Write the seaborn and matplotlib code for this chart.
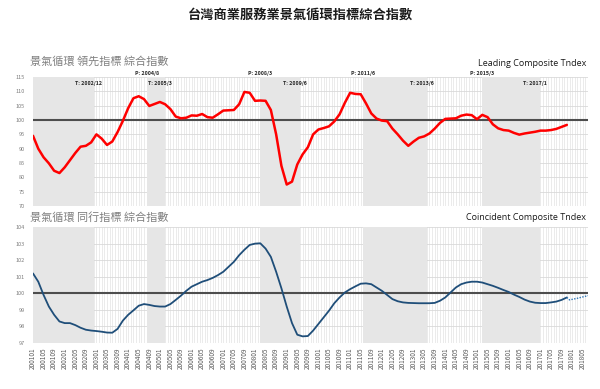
import numpy as np
import pandas as pd
import matplotlib
matplotlib.use("Agg")
import matplotlib.pyplot as plt
import seaborn as sns

# month labels on the x axis (2001/01 .. 2018/07)
months = pd.period_range("2001-01", "2018-07", freq="M").strftime("%Y%m").tolist()

# leading composite index, read every second month 200101 .. 201711
leading = [94.5, 90.0, 87.0, 84.9, 82.3, 81.5, 83.5, 86.0, 88.5, 90.7,
           91.0, 92.2, 95.0, 93.5, 91.3, 92.5, 95.8, 99.7, 104.1, 107.6,
           108.3, 107.3, 104.9, 105.6, 106.3, 105.5, 103.8, 101.2, 100.6, 100.8,
           101.6, 101.5, 102.1, 101.0, 100.8, 102.0, 103.3, 103.4, 103.5, 105.5,
           109.8, 109.5, 106.7, 106.8, 106.7, 103.5, 95.0, 84.0, 77.5, 78.5,
           84.5, 88.0, 90.5, 95.0, 96.7, 97.2, 97.8, 99.5, 102.0, 106.0,
           109.5, 109.1, 109.0, 105.8, 102.3, 100.5, 99.8, 99.6, 97.0, 95.0,
           92.8, 91.0, 92.5, 93.8, 94.3, 95.3, 97.0, 99.0, 100.4, 100.5,
           100.6, 101.5, 101.9, 101.7, 100.3, 101.8, 101.0, 98.5, 97.1, 96.5,
           96.3, 95.5, 94.9, 95.3, 95.6, 95.9, 96.3, 96.3, 96.5, 96.9,
           97.6, 98.3]

# coincident composite index, same months
coincident = [101.2, 100.7, 99.9, 99.2, 98.7, 98.3, 98.2, 98.2, 98.08, 97.92,
              97.8, 97.75, 97.72, 97.68, 97.63, 97.62, 97.85, 98.35, 98.7, 98.97,
              99.25, 99.35, 99.3, 99.23, 99.2, 99.2, 99.35, 99.6, 99.86, 100.15,
              100.4, 100.55, 100.7, 100.8, 100.93, 101.1, 101.3, 101.6, 101.9, 102.3,
              102.63, 102.92, 103.0, 103.02, 102.7, 102.2, 101.3, 100.3, 99.2, 98.2,
              97.5, 97.4, 97.42, 97.75, 98.15, 98.55, 98.95, 99.4, 99.75, 100.05,
              100.25, 100.42, 100.58, 100.6, 100.55, 100.35, 100.15, 99.9, 99.65, 99.52,
              99.45, 99.42, 99.41, 99.4, 99.4, 99.4, 99.42, 99.55, 99.75, 100.05,
              100.35, 100.55, 100.65, 100.7, 100.7, 100.65, 100.55, 100.45, 100.33, 100.2,
              100.08, 99.92, 99.78, 99.62, 99.5, 99.43, 99.41, 99.41, 99.45, 99.5,
              99.6, 99.75]
series_months = months[0:203:2]

# dotted tail of the coincident line
tail_months = ["201711", "201712", "201803", "201807"]
tail_values = [99.75, 99.6, 99.7, 99.86]

# contraction periods (peak -> trough) shaded grey
shade_start = ["200101", "200408", "200803", "201106", "201503"]
shade_end = ["200212", "200503", "200906", "201306", "201701"]
peak_labels = ["P: 2004/8", "P: 2008/3", "P: 2011/6", "P: 2015/3"]
trough_labels = ["T: 2002/12", "T: 2005/3", "T: 2009/6", "T: 2013/6", "T: 2017/1"]

idx = {m: i for i, m in enumerate(months)}
lead_df = pd.DataFrame({"x": [idx[m] for m in series_months], "y": leading})
coin_df = pd.DataFrame({"x": [idx[m] for m in series_months], "y": coincident})
tail_df = pd.DataFrame({"x": [idx[m] for m in tail_months], "y": tail_values})

sns.set_theme(style="white")
plt.rcParams["font.family"] = ["Noto Sans CJK TC", "DejaVu Sans"]

fig = plt.figure(figsize=(6.0, 3.89), dpi=100)
ax1 = fig.add_axes([0.055, 0.4704, 0.925, 0.3316])
ax2 = fig.add_axes([0.055, 0.1183, 0.925, 0.298])

for ax, ylim, step in [(ax1, (70, 115), 5), (ax2, (97, 104), 1)]:
    ax.set_xlim(0, len(months) - 1)
    ax.set_ylim(*ylim)
    for m in range(len(months)):
        ax.axvline(m, color="#E3E3E3", lw=0.5, zorder=0)
    for s, e in zip(shade_start, shade_end):
        ax.axvspan(idx[s], idx[e], color="#E6E6E6", lw=0, zorder=1)
    ax.set_yticks(np.arange(ylim[0], ylim[1] + 0.1, step))
    ax.yaxis.grid(True, color="#D9D9D9", lw=0.6)
    ax.set_axisbelow(True)
    for sp in ax.spines.values():
        sp.set_visible(False)
    ax.tick_params(axis="y", labelsize=4, colors="#7F7F7F", length=0, pad=6)
    ax.axhline(100, color="#4D4D4D", lw=1.5, zorder=3)

sns.lineplot(data=lead_df, x="x", y="y", ax=ax1, color="#FF0000", lw=1.8, zorder=4)
sns.lineplot(data=coin_df, x="x", y="y", ax=ax2, color="#1F4E79", lw=1.3, zorder=4)
sns.lineplot(data=tail_df, x="x", y="y", ax=ax2, color="#2E75B6", lw=1.0,
             ls=(0, (1, 1)), zorder=4)
for ax in (ax1, ax2):
    ax.set_xlabel("")
    ax.set_ylabel("")
    ax.set_xlim(0, len(months) - 1)

ax1.set_xticks([])
ticks = list(range(0, len(months), 4))
ax2.set_xticks(ticks)
ax2.set_xticklabels([months[t] for t in ticks], rotation=90, fontsize=4.6,
                    color="#595959")
ax2.tick_params(axis="x", length=0, pad=3)

# peak / trough labels
for s, lab in zip(shade_start[1:], peak_labels):
    ax1.text(idx[s], 116.2, lab, ha="center", va="center", fontsize=3.8,
             fontweight="bold", color="#262626", clip_on=False)
for e, lab in zip(shade_end, trough_labels):
    ax1.text(idx[e] - 2, 112.8, lab, ha="center", va="center", fontsize=3.8,
             fontweight="bold", color="#262626", zorder=5)

fig.text(0.5, 0.962, "台灣商業服務業景氣循環指標綜合指數", ha="center", va="center",
         fontsize=9.5, fontweight="bold", color="#1A1A1A")
fig.text(0.05, 0.842, "景氣循環 領先指標 綜合指數", ha="left", va="center",
         fontsize=8, color="#7F7F7F")
fig.text(0.977, 0.838, "Leading Composite Tndex", ha="right", va="center",
         fontsize=6.5, color="#1A1A1A", family=["Open Sans", "DejaVu Sans"])
fig.text(0.05, 0.44, "景氣循環 同行指標 綜合指數", ha="left", va="center",
         fontsize=8, color="#7F7F7F")
fig.text(0.977, 0.44, "Coincident Composite Tndex", ha="right", va="center",
         fontsize=6.5, color="#1A1A1A", family=["Open Sans", "DejaVu Sans"])

fig.savefig("out.png", dpi=100)
